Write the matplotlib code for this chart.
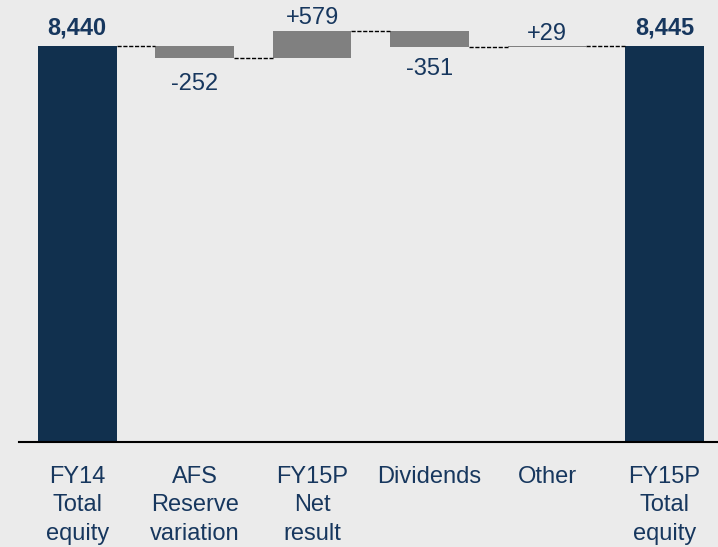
import matplotlib
matplotlib.use("Agg")
from matplotlib import pyplot as plt

# data
labels = ["FY14\nTotal\nequity", "AFS\nReserve\nvariation", "FY15P\nNet\nresult",
          "Dividends", "Other", "FY15P\nTotal\nequity"]
start_total = 8440
changes = [-252, 579, -351, 29]
end_total = 8445

plt.rcParams['font.family'] = ['Liberation Sans', 'DejaVu Sans']
navy = "#11304e"
txt = "#17375e"
grey = "#808080"
bg = "#ebebeb"

fig = plt.figure(figsize=(7.18, 5.47), dpi=100, facecolor=bg)
ax = fig.add_axes([0.026, 0.192, 0.974, 0.808])
ax.set_facecolor(bg)

w = 0.67
x = list(range(len(labels)))

# totals
ax.bar(x[0], start_total, width=w, color=navy)
ax.bar(x[-1], end_total, width=w, color=navy)

levels = [start_total]
run = start_total
for i, c in enumerate(changes):
    lo = min(run, run + c)
    ax.bar(x[i + 1], abs(c), bottom=lo, width=w, color=grey)
    run += c
    levels.append(run)

# connectors
for i in range(len(labels) - 1):
    ax.plot([x[i] + w / 2, x[i + 1] - w / 2], [levels[i], levels[i]],
            color="black", lw=1, ls=(0, (3, 1.2)))

# value labels
ax.annotate(f"{start_total:,}", (x[0], start_total), xytext=(0, 8.6),
            textcoords="offset points", ha="center", va="baseline",
            fontsize=17, fontweight="bold", color=txt)
ax.annotate(f"{end_total:,}", (x[-1], end_total), xytext=(0, 8),
            textcoords="offset points", ha="center", va="baseline",
            fontsize=17, fontweight="bold", color=txt)
offs = [-11, 4.5, -8, 4]
prev = start_total
for i, c in enumerate(changes):
    if c > 0:
        ax.annotate(f"+{c}", (x[i + 1], prev + c), xytext=(0, offs[i]),
                    textcoords="offset points", ha="center", va="baseline",
                    fontsize=17, color=txt)
    else:
        ax.annotate(f"{c}", (x[i + 1], prev + c), xytext=(0, offs[i]),
                    textcoords="offset points", ha="center", va="top",
                    fontsize=17, color=txt)
    prev += c

ax.set_xlim(-0.498, 5.456)
ax.set_ylim(0, 9420)
ax.set_yticks([])
ax.set_xticks(x)
ax.set_xticklabels(labels, fontsize=17, color=txt, linespacing=1.38)
ax.tick_params(axis="x", length=0, pad=17)
for s in ["top", "right", "left"]:
    ax.spines[s].set_visible(False)
ax.spines["bottom"].set_color("black")
ax.spines["bottom"].set_linewidth(1.5)

fig.savefig("out.png", dpi=100, facecolor=bg)
